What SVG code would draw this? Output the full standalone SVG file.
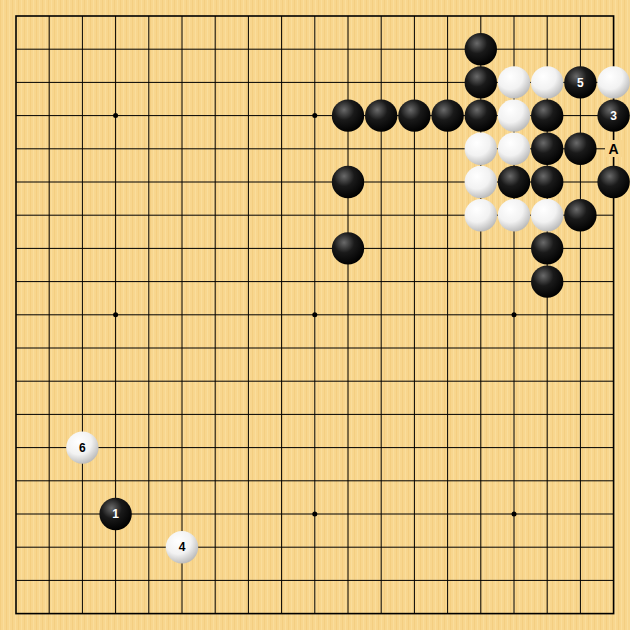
<svg xmlns="http://www.w3.org/2000/svg" width="630" height="630" viewBox="0 0 630 630">
<defs>
<pattern id="wood" width="6" height="630" patternUnits="userSpaceOnUse">
<rect width="6" height="630" fill="#F8D68E"/>
<rect x="0" width="1" height="630" fill="#F2C878" opacity="0.6"/>
<rect x="3" width="1" height="630" fill="#FBE0A2" opacity="0.7"/>
</pattern>
<radialGradient id="gb" cx="0.38" cy="0.32" r="0.7">
<stop offset="0" stop-color="#6a6a6a"/>
<stop offset="0.45" stop-color="#1a1a1a"/>
<stop offset="1" stop-color="#000"/>
</radialGradient>
<radialGradient id="gw" cx="0.38" cy="0.32" r="0.72">
<stop offset="0" stop-color="#ffffff"/>
<stop offset="0.55" stop-color="#f2f2f2"/>
<stop offset="1" stop-color="#b8b8b8"/>
</radialGradient>
<circle id="b" r="16.2" fill="url(#gb)"/>
<circle id="w" r="16.2" fill="url(#gw)"/>
</defs>
<style>
.grid{stroke:#000;stroke-width:1;fill:none}
.edge{stroke:#000;stroke-width:1.6;fill:none}
.star{fill:#000}
.lb{font-family:"Liberation Sans",Arial,sans-serif;font-size:12px;font-weight:bold;text-anchor:middle}
.onb{fill:#fff}
.onw{fill:#000}
</style>
<rect width="630" height="630" fill="url(#wood)"/>
<g id="connectors">
<path class="grid" d="M16 49.2H613.6M16 82.4H613.6M16 115.6H613.6M16 148.8H613.6M16 182H613.6M16 215.2H613.6M16 248.4H613.6M16 281.6H613.6M16 314.8H613.6M16 348H613.6M16 381.2H613.6M16 414.4H613.6M16 447.6H613.6M16 480.8H613.6M16 514H613.6M16 547.2H613.6M16 580.4H613.6"/>
<path class="grid" d="M49.2 16V613.6M82.4 16V613.6M115.6 16V613.6M148.8 16V613.6M182 16V613.6M215.2 16V613.6M248.4 16V613.6M281.6 16V613.6M314.8 16V613.6M348 16V613.6M381.2 16V613.6M414.4 16V613.6M447.6 16V613.6M480.8 16V613.6M514 16V613.6M547.2 16V613.6M580.4 16V613.6"/>
<rect class="edge" x="16" y="16" width="597.6" height="597.6"/>
<circle class="star" cx="115.6" cy="115.6" r="2.5"/>
<circle class="star" cx="314.8" cy="115.6" r="2.5"/>
<circle class="star" cx="514" cy="115.6" r="2.5"/>
<circle class="star" cx="115.6" cy="314.8" r="2.5"/>
<circle class="star" cx="314.8" cy="314.8" r="2.5"/>
<circle class="star" cx="514" cy="314.8" r="2.5"/>
<circle class="star" cx="115.6" cy="514" r="2.5"/>
<circle class="star" cx="314.8" cy="514" r="2.5"/>
<circle class="star" cx="514" cy="514" r="2.5"/>
</g>
<g id="b-14-1"><use href="#b" x="480.8" y="49.2"/></g>
<g id="b-14-2"><use href="#b" x="480.8" y="82.4"/></g>
<g id="w-15-2"><use href="#w" x="514" y="82.4"/></g>
<g id="w-16-2"><use href="#w" x="547.2" y="82.4"/></g>
<g id="b-17-2"><use href="#b" x="580.4" y="82.4"/><text class="lb onb" x="580.4" y="86.6">5</text></g>
<g id="w-18-2"><use href="#w" x="613.6" y="82.4"/></g>
<g id="b-10-3"><use href="#b" x="348" y="115.6"/></g>
<g id="b-11-3"><use href="#b" x="381.2" y="115.6"/></g>
<g id="b-12-3"><use href="#b" x="414.4" y="115.6"/></g>
<g id="b-13-3"><use href="#b" x="447.6" y="115.6"/></g>
<g id="b-14-3"><use href="#b" x="480.8" y="115.6"/></g>
<g id="w-15-3"><use href="#w" x="514" y="115.6"/></g>
<g id="b-16-3"><use href="#b" x="547.2" y="115.6"/></g>
<g id="b-18-3"><use href="#b" x="613.6" y="115.6"/><text class="lb onb" x="613.6" y="119.8">3</text></g>
<g id="w-14-4"><use href="#w" x="480.8" y="148.8"/></g>
<g id="w-15-4"><use href="#w" x="514" y="148.8"/></g>
<g id="b-16-4"><use href="#b" x="547.2" y="148.8"/></g>
<g id="b-17-4"><use href="#b" x="580.4" y="148.8"/></g>
<g id="mark-A"><rect x="605" y="140" width="17" height="17" fill="#F8D68E"/><text x="613.6" y="153.6" font-family="Liberation Sans,Arial,sans-serif" font-size="14" font-weight="bold" text-anchor="middle" fill="#000">A</text></g>
<g id="b-10-5"><use href="#b" x="348" y="182"/></g>
<g id="w-14-5"><use href="#w" x="480.8" y="182"/></g>
<g id="b-15-5"><use href="#b" x="514" y="182"/></g>
<g id="b-16-5"><use href="#b" x="547.2" y="182"/></g>
<g id="b-18-5"><use href="#b" x="613.6" y="182"/></g>
<g id="w-14-6"><use href="#w" x="480.8" y="215.2"/></g>
<g id="w-15-6"><use href="#w" x="514" y="215.2"/></g>
<g id="w-16-6"><use href="#w" x="547.2" y="215.2"/></g>
<g id="b-17-6"><use href="#b" x="580.4" y="215.2"/></g>
<g id="b-10-7"><use href="#b" x="348" y="248.4"/></g>
<g id="b-16-7"><use href="#b" x="547.2" y="248.4"/></g>
<g id="b-16-8"><use href="#b" x="547.2" y="281.6"/></g>
<g id="w-2-13"><use href="#w" x="82.4" y="447.6"/><text class="lb onw" x="82.4" y="451.8">6</text></g>
<g id="b-3-15"><use href="#b" x="115.6" y="514"/><text class="lb onb" x="115.6" y="518.2">1</text></g>
<g id="w-5-16"><use href="#w" x="182" y="547.2"/><text class="lb onw" x="182" y="551.4">4</text></g>
</svg>
